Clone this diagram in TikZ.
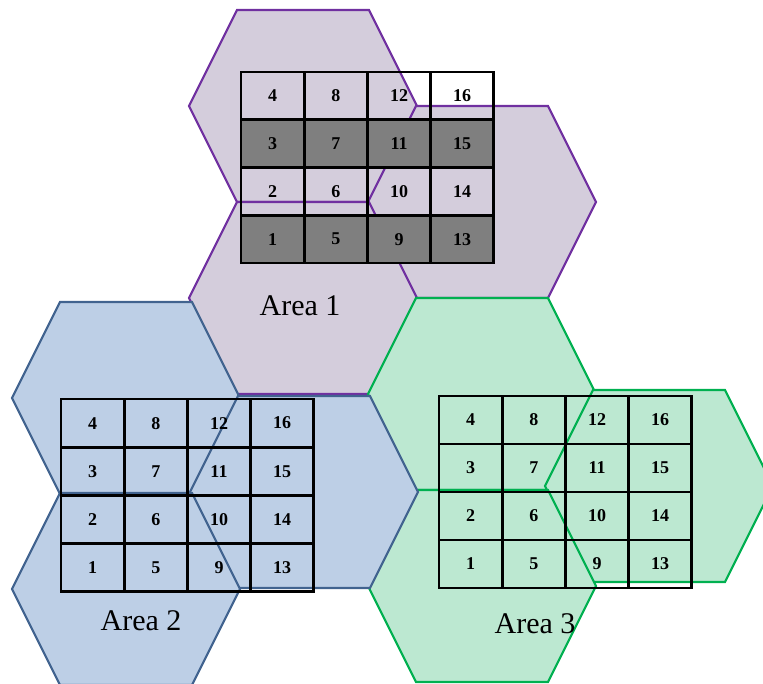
\documentclass[tikz,border=0pt]{standalone}
\usepackage{fontspec}
\setmainfont{Liberation Serif}
\definecolor{purpA}{HTML}{7030A0}
\definecolor{lavA}{HTML}{D4CDDC}
\definecolor{blueB}{HTML}{41638F}
\definecolor{fillB}{HTML}{BDCFE6}
\definecolor{greenC}{HTML}{00B050}
\definecolor{fillC}{HTML}{BCE8D1}
\definecolor{darkcellc}{HTML}{7F7F7F}
\newcommand\hexagonat[3]{%
  \draw[#1] (#2-114,#3) -- (#2-66,#3-96) -- (#2+66,#3-96) -- (#2+114,#3)
    -- (#2+66,#3+96) -- (#2-66,#3+96) -- cycle;}
\newcommand\cellgrid[4]{%
  \foreach \c in {0,...,3}{\foreach \r in {0,...,3}{%
    \pgfmathtruncatemacro\n{4*\c+\r+1}%
    \draw[cell] ({#2+\c*63.2},{#3+(3-\r)*#4}) rectangle ++(63.2,#4);
    \node[num] (#1-\n) at ({#2+(\c+0.5)*63.2},{#3+(3.5-\r)*#4}) {\n};
  }}}
\begin{document}
\begin{tikzpicture}[x=1pt,y=-1pt,
  hexA/.style={draw=purpA, fill=lavA, line width=2.2pt, line join=miter},
  hexB/.style={draw=blueB, fill=fillB, line width=2.2pt, line join=miter},
  hexC/.style={draw=greenC, fill=fillC, line width=2.2pt, line join=miter},
  cell/.style={draw=black, line width=2.8pt},
  darkrow/.style={fill=darkcellc},
  num/.style={font=\fontsize{18}{18}\selectfont\bfseries, inner sep=0pt},
  area/.style={font=\fontsize{30}{30}\selectfont, inner sep=0pt, anchor=base}]
\useasboundingbox (0,0) rectangle (763,683);
\begin{scope}
  \clip (0,0) rectangle (763,683);
  % Area 1
  \hexagonat{hexA}{303}{106}
  \hexagonat{hexA}{482}{202}
  \hexagonat{hexA}{303}{298}
  % Area 3
  \hexagonat{hexC}{482}{394}
  \hexagonat{hexC}{659}{486}
  \hexagonat{hexC}{482}{586}
  % Area 2
  \hexagonat{hexB}{126}{398}
  \hexagonat{hexB}{304}{492}
  \hexagonat{hexB}{126}{589}
\end{scope}
% Area 1 grid with dark rows
\fill[darkrow] (241,119.75) rectangle (493.8,167.5);
\fill[darkrow] (241,215.25) rectangle (493.8,263);
\cellgrid{ga}{241}{72}{47.75}
% Area 2 grid
\cellgrid{gb}{61}{399}{48.2}
% Area 3 grid
\cellgrid{gc}{439}{396}{48}
% labels
\node[area] (lab1) at (300,315) {Area 1};
\node[area] (lab2) at (141,630) {Area 2};
\node[area] (lab3) at (535,633) {Area 3};
\end{tikzpicture}
\end{document}
